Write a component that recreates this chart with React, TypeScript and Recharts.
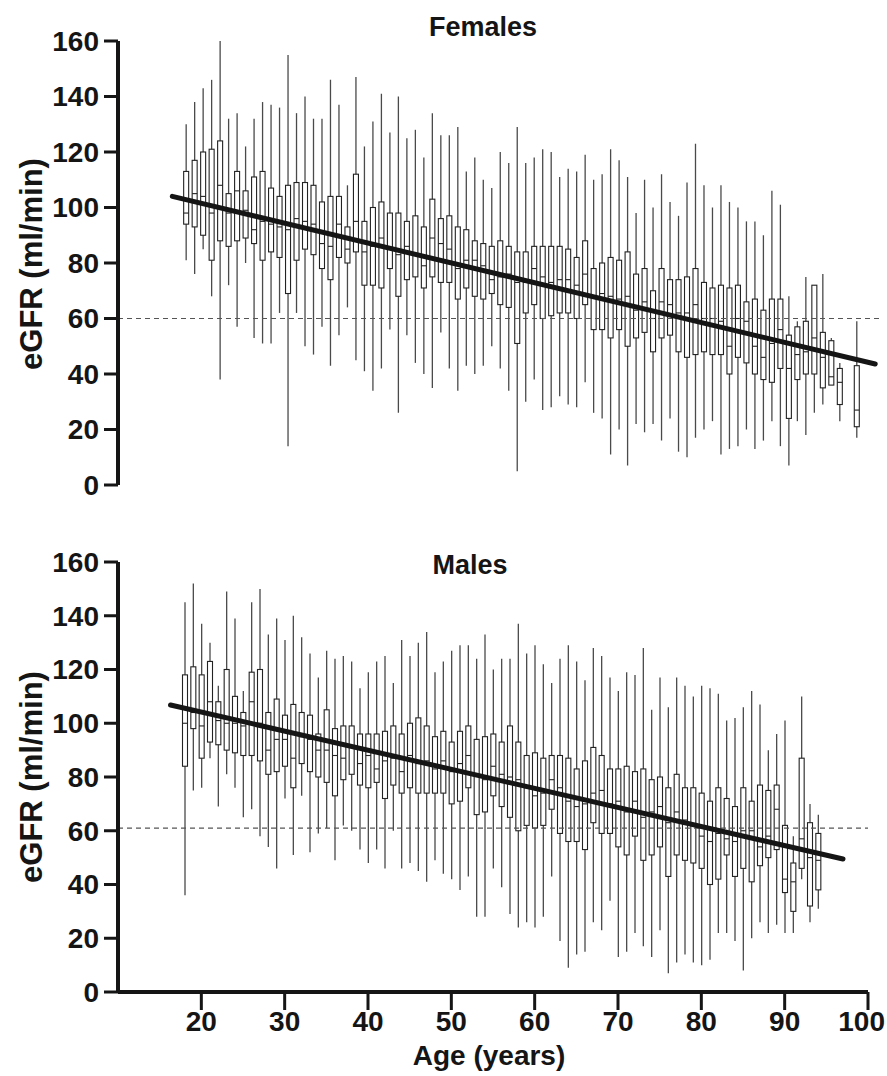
import React from 'react';
import { ComposedChart, Bar, XAxis, YAxis, ReferenceLine } from 'recharts';

// ---------- Females ----------
const femaleAges = [
  18, 19, 20, 21, 22, 23, 24, 25, 26, 27, 28, 29, 30, 31, 32, 33, 34, 35, 36, 37,
  38, 39, 40, 41, 42, 43, 44, 45, 46, 47, 48, 49, 50, 51, 52, 53, 54, 55, 56, 57, 58,
  59, 60, 61, 62, 63, 64, 65, 66, 67, 68, 69, 70, 71, 72, 73, 74, 75, 76, 77, 78, 79,
  80, 81, 82, 83, 84, 85, 86, 87, 88, 89, 90, 91, 92, 93, 94, 95, 97,
];
const femaleMin = [
  81, 76, 85, 68, 38, 72, 57, 80, 53, 51, 51, 62, 14, 62, 50, 47, 57, 43, 54, 64,
  45, 41, 34, 42, 56, 26, 54, 44, 40, 35, 55, 42, 34, 43, 40, 43, 50, 42, 34, 5, 30,
  38, 27, 28, 32, 29, 28, 37, 26, 24, 11, 20, 7, 22, 19, 22, 16, 24, 12, 10, 17, 20,
  23, 11, 13, 14, 20, 13, 16, 23, 14, 7, 23, 18, 26, 29, 36, 23, 17,
];
const femaleQ1 = [
  94, 93, 90, 81, 88, 86, 88, 89, 87, 81, 84, 82, 69, 81, 85, 83, 78, 74, 82, 80,
  84, 72, 72, 71, 78, 68, 74, 75, 71, 75, 73, 73, 67, 71, 68, 67, 69, 65, 64, 51, 62,
  65, 60, 61, 62, 62, 60, 65, 56, 56, 53, 56, 50, 53, 55, 48, 53, 54, 48, 46, 47, 48,
  47, 47, 40, 46, 44, 40, 38, 37, 42, 24, 38, 40, 40, 35, 36, 29, 21,
];
const femaleMedian = [
  98, 105, 104, 98, 108, 98, 106, 99, 92, 95, 94, 93, 92, 96, 95, 94, 87, 86, 94, 85,
  95, 84, 86, 89, 85, 83, 86, 83, 79, 89, 87, 85, 78, 81, 81, 79, 74, 75, 76, 73, 73,
  78, 75, 73, 74, 74, 72, 76, 68, 69, 68, 67, 68, 63, 66, 60, 66, 65, 62, 62, 65, 60,
  60, 59, 50, 60, 59, 50, 46, 51, 56, 42, 47, 48, 53, 46, 39, 37, 27,
];
const femaleQ3 = [
  113, 117, 120, 121, 124, 105, 113, 106, 111, 113, 107, 104, 108, 109, 109, 108, 102, 104, 104, 93,
  112, 95, 100, 102, 98, 98, 95, 97, 93, 103, 96, 97, 93, 92, 88, 87, 86, 88, 86, 84, 84,
  86, 86, 86, 86, 85, 82, 88, 78, 80, 82, 81, 84, 76, 78, 70, 78, 74, 74, 75, 78, 73,
  71, 72, 71, 72, 66, 67, 63, 67, 67, 54, 57, 59, 72, 55, 52, 42, 43,
];
const femaleMax = [
  130, 138, 143, 146, 165, 132, 134, 122, 132, 138, 137, 136, 155, 134, 140, 132, 132, 146, 137, 108,
  147, 122, 131, 141, 127, 140, 125, 128, 118, 134, 126, 126, 129, 113, 118, 110, 107, 120, 116, 129, 116,
  118, 121, 120, 111, 114, 113, 119, 110, 112, 121, 117, 111, 98, 110, 100, 112, 102, 97, 109, 123, 108,
  100, 108, 102, 100, 95, 95, 90, 106, 101, 68, 59, 75, 72, 76, 53, 44, 59,
];
const femaleFitAges = [16.4, 99.2];
const femaleFitValues = [104, 43.6];
const femaleCutoff = 60;

// ---------- Males ----------
const maleAges = [
  18, 19, 20, 21, 22, 23, 24, 25, 26, 27, 28, 29, 30, 31, 32, 33, 34, 35, 36, 37,
  38, 39, 40, 41, 42, 43, 44, 45, 46, 47, 48, 49, 50, 51, 52, 53, 54, 55, 56, 57, 58,
  59, 60, 61, 62, 63, 64, 65, 66, 67, 68, 69, 70, 71, 72, 73, 74, 75, 76, 77, 78, 79,
  80, 81, 82, 83, 84, 85, 86, 87, 88, 89, 90, 91, 92, 93, 94,
];
const maleMin = [
  36, 75, 76, 87, 69, 81, 76, 65, 68, 58, 54, 46, 72, 51, 73, 52, 59, 61, 49, 62,
  60, 53, 48, 53, 46, 60, 46, 48, 45, 41, 49, 44, 42, 38, 43, 28, 28, 46, 39, 29, 24,
  26, 24, 28, 43, 19, 9, 14, 15, 26, 23, 34, 13, 15, 22, 17, 13, 23, 7, 11, 14, 11,
  10, 12, 22, 22, 19, 8, 20, 26, 22, 25, 22, 22, 42, 26, 31,
];
const maleQ1 = [
  84, 98, 87, 93, 92, 90, 89, 88, 88, 86, 81, 82, 84, 76, 85, 82, 80, 78, 73, 79,
  81, 77, 76, 78, 72, 77, 74, 76, 74, 74, 74, 74, 70, 71, 76, 66, 67, 73, 69, 65, 60,
  62, 61, 62, 68, 59, 56, 56, 53, 63, 59, 59, 54, 51, 58, 49, 51, 54, 43, 51, 49, 48,
  46, 40, 42, 51, 43, 46, 41, 47, 50, 53, 37, 30, 46, 32, 38,
];
const maleMedian = [
  100, 104, 99, 108, 101, 100, 100, 99, 108, 100, 90, 94, 94, 87, 95, 94, 90, 90, 88, 87,
  91, 85, 88, 83, 86, 87, 82, 88, 85, 86, 83, 86, 82, 85, 88, 81, 79, 84, 81, 80, 79,
  76, 73, 74, 79, 76, 71, 69, 70, 74, 75, 70, 71, 67, 71, 65, 67, 69, 63, 67, 64, 62,
  58, 56, 59, 57, 56, 60, 60, 54, 58, 68, 42, 41, 57, 50, 49,
];
const maleQ3 = [
  118, 121, 118, 123, 108, 120, 110, 104, 119, 120, 104, 109, 103, 107, 104, 103, 96, 105, 98, 99,
  99, 96, 96, 96, 97, 99, 96, 100, 102, 99, 95, 97, 93, 97, 99, 94, 95, 96, 93, 99, 93,
  88, 89, 87, 88, 88, 87, 83, 86, 91, 88, 83, 83, 84, 82, 83, 79, 80, 76, 81, 76, 76,
  74, 71, 76, 72, 69, 76, 71, 77, 75, 77, 62, 48, 87, 63, 59,
];
const maleMax = [
  145, 152, 137, 130, 114, 149, 139, 112, 145, 150, 133, 139, 131, 140, 132, 126, 117, 127, 124, 125,
  123, 113, 119, 123, 125, 115, 131, 125, 130, 134, 119, 123, 127, 129, 129, 124, 133, 120, 124, 124, 137,
  126, 129, 122, 115, 124, 129, 123, 116, 128, 125, 117, 112, 119, 118, 128, 105, 117, 106, 117, 114, 110,
  114, 113, 111, 101, 102, 106, 112, 107, 90, 96, 101, 58, 110, 70, 66,
];
const maleFitAges = [16.3, 97];
const maleFitValues = [106.8, 49.5];
const maleCutoff = 61;

const yTicks = [0, 20, 40, 60, 80, 100, 120, 140, 160];
const xTicks = [20, 30, 40, 50, 60, 70, 80, 90, 100];

type Row = { age: number; min: number; q1: number; median: number; q3: number; max: number };

function buildRows(ages: number[], mins: number[], q1s: number[], meds: number[], q3s: number[], maxs: number[]): Row[] {
  return ages.map((age, i) => ({ age, min: mins[i], q1: q1s[i], median: meds[i], q3: q3s[i], max: maxs[i] }));
}

const femaleRows = buildRows(femaleAges, femaleMin, femaleQ1, femaleMedian, femaleQ3, femaleMax);
const maleRows = buildRows(maleAges, maleMin, maleQ1, maleMedian, maleQ3, maleMax);

const FONT = '"Liberation Sans", Arial, Helvetica, sans-serif';
const INK = '#151515';
const PAGE_W = 887;
const TICK_FS = 28;

const BoxShape = (props: any) => {
  const { x, y, width, height } = props;
  const d: Row = props.payload && props.payload.q1 !== undefined ? props.payload : props;
  if (x == null || y == null || d == null) return null;
  const top = Math.min(y, y + height);
  const bottom = Math.max(y, y + height);
  const span = d.max - d.min;
  const py = (v: number) => (span === 0 ? bottom : bottom - ((bottom - top) * (v - d.min)) / span);
  const cx = x + width / 2;
  return (
    <g>
      <line x1={cx} x2={cx} y1={top} y2={bottom} stroke="#4a4a4a" strokeWidth={1.3} />
      <rect x={x} y={py(d.q3)} width={width} height={Math.max(0.5, py(d.q1) - py(d.q3))} fill="#fff" stroke="#222" strokeWidth={1.1} />
      <line x1={x} x2={x + width} y1={py(d.median)} y2={py(d.median)} stroke="#222" strokeWidth={1.1} />
    </g>
  );
};

const tickStyle = { fill: INK, fontSize: TICK_FS, fontWeight: 700, fontFamily: FONT };

const XTick = (props: any) => {
  const { x, y, payload } = props;
  const label = String(payload.value);
  const half = (label.length * 0.556 * TICK_FS) / 2;
  const cx = Math.min(x, PAGE_W - 2 - half);
  return (
    <text x={cx} y={y} dy={21} textAnchor="middle" fill={INK} fontSize={TICK_FS} fontWeight={700} fontFamily={FONT}>
      {label}
    </text>
  );
};

function Panel(props: {
  rows: Row[];
  fitAges: number[];
  fitValues: number[];
  cutoff: number;
  width: number;
  height: number;
  margin: { top: number; right: number; bottom: number; left: number };
  showX: boolean;
}) {
  const { rows, fitAges, fitValues, cutoff, width, height, margin, showX } = props;
  return (
    <ComposedChart width={width} height={height} data={rows} margin={margin}>
      <XAxis
        type="number"
        dataKey="age"
        domain={[10, 100]}
        ticks={xTicks}
        interval={0}
        hide={!showX}
        height={84}
        axisLine={{ stroke: INK, strokeWidth: 4 }}
        tickLine={{ stroke: INK, strokeWidth: 3 }}
        tickSize={18}
        tickMargin={0}
        tick={<XTick />}
        allowDataOverflow
      />
      <YAxis
        type="number"
        domain={[0, 160]}
        ticks={yTicks}
        interval={0}
        width={118}
        axisLine={{ stroke: INK, strokeWidth: 4 }}
        tickLine={{ stroke: INK, strokeWidth: 3 }}
        tickSize={14}
        tickMargin={5}
        tick={tickStyle}
        allowDataOverflow
      />
      <ReferenceLine y={cutoff} stroke="#555" strokeWidth={1.2} strokeDasharray="5 4" />
      <Bar dataKey={(d: Row) => [d.min, d.max]} barSize={5} shape={BoxShape} isAnimationActive={false} />
      <ReferenceLine
        segment={[
          { x: fitAges[0], y: fitValues[0] },
          { x: fitAges[1], y: fitValues[1] },
        ]}
        stroke={INK}
        strokeWidth={5}
        strokeLinecap="round"
        ifOverflow="visible"
      />
    </ComposedChart>
  );
}

const abs = (left: number, top: number): React.CSSProperties => ({ position: 'absolute', left, top });

export default function App() {
  const titleStyle: React.CSSProperties = {
    position: 'absolute',
    transform: 'translate(-50%, -50%)',
    fontFamily: FONT,
    fontWeight: 700,
    fontSize: 27,
    color: INK,
    whiteSpace: 'nowrap',
    lineHeight: 1,
  };
  const yTitle: React.CSSProperties = {
    position: 'absolute',
    transform: 'translate(-50%, -50%) rotate(-90deg)',
    fontFamily: FONT,
    fontWeight: 700,
    fontSize: 31,
    color: INK,
    whiteSpace: 'nowrap',
    lineHeight: 1,
  };
  return (
    <div style={{ position: 'absolute', left: 0, top: 0, width: 887, height: 1076, background: '#fff', fontFamily: FONT, overflow: 'hidden' }}>
      <div style={abs(0, 0)}>
        <Panel
          rows={femaleRows}
          fitAges={femaleFitAges}
          fitValues={femaleFitValues}
          cutoff={femaleCutoff}
          width={887}
          height={500}
          margin={{ top: 41, right: 5, bottom: 15, left: 0 }}
          showX={false}
        />
      </div>
      <div style={abs(0, 520)}>
        <Panel
          rows={maleRows}
          fitAges={maleFitAges}
          fitValues={maleFitValues}
          cutoff={maleCutoff}
          width={887}
          height={556}
          margin={{ top: 42, right: 19, bottom: 0, left: 0 }}
          showX={true}
        />
      </div>
      <div style={{ ...titleStyle, left: 483, top: 27 }}>Females</div>
      <div style={{ ...titleStyle, left: 470, top: 565 }}>Males</div>
      <div style={{ ...yTitle, left: 31, top: 264 }}>eGFR (ml/min)</div>
      <div style={{ ...yTitle, left: 31, top: 777 }}>eGFR (ml/min)</div>
      <div style={{ ...titleStyle, fontSize: 28, left: 489, top: 1056 }}>Age (years)</div>
    </div>
  );
}
